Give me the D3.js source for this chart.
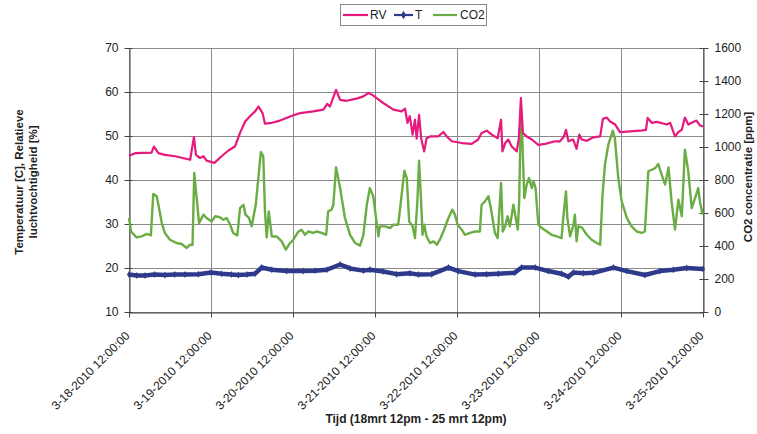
<!DOCTYPE html>
<html><head><meta charset="utf-8">
<script src="https://cdn.jsdelivr.net/npm/d3@7"></script>
<style>
body{margin:0;background:#fff}
text{font-family:"Liberation Sans",Arial,sans-serif;fill:#222}
</style>
</head><body>
<svg id="chart" width="757" height="434"></svg>
<script>
// ---- data (hours after 3-18-2010 12:00) ----
const tickHours = [0, 24, 48, 72, 96, 120, 144, 168];
const tickLabels = ["3-18-2010 12:00:00","3-19-2010 12:00:00","3-20-2010 12:00:00","3-21-2010 12:00:00",
  "3-22-2010 12:00:00","3-23-2010 12:00:00","3-24-2010 12:00:00","3-25-2010 12:00:00"];
const leftTicks = [10, 20, 30, 40, 50, 60, 70];
const rightTicks = [0, 200, 400, 600, 800, 1000, 1200, 1400, 1600];
const seriesNames = ["RV", "T", "CO2"];

const rvHours = [0,1.8,6.6,7.3,8.6,10.5,13.5,17.9,19.0,19.6,20.8,21.8,22.7,25.0,27.1,29.1,31.0,32.5,34.0,35.4,36.9,37.9,39.1,39.8,41.8,44.2,48.1,50.1,53.9,56.9,58.0,58.8,60.6,61.8,63.7,66.6,68.6,70.1,71.5,74.4,77.4,79.8,80.8,81.5,82.2,83.0,83.7,84.2,84.9,85.5,86.4,87.1,88.1,90.5,92.0,93.0,94.5,97.4,100.3,102.2,103.2,104.7,106.2,107.9,108.9,109.3,110.1,111.0,112.0,113.5,114.1,114.7,115.3,116.4,117.9,119.8,121.8,124.7,126.1,127.3,127.9,128.6,130.0,131.0,131.8,132.5,134.0,135.9,137.9,138.7,139.8,140.8,142.3,143.7,145.7,149.6,151.3,151.8,153.0,154.5,157.4,158.4,159.8,160.8,161.8,162.7,163.7,164.7,166.1,167.1,168.0];
const rvValues = [45.5,46.1,46.2,47.6,46.1,45.7,45.4,44.6,49.8,45.7,45.0,45.4,44.4,43.9,45.4,46.7,47.6,50.7,53.3,54.5,55.6,56.7,55.2,52.8,53.0,53.5,54.7,55.2,55.6,56.0,57.3,56.7,60.5,58.2,58.0,58.5,59.0,59.8,59.2,57.5,56.0,55.6,56.2,53.0,54.5,50.3,53.7,49.4,54.8,49.5,46.5,49.5,49.9,49.9,50.9,49.9,48.8,48.4,48.2,49.2,50.7,51.2,50.3,49.5,53.7,46.5,48.4,49.2,47.6,46.5,49.5,58.6,50.7,49.9,49.2,48.0,48.2,48.8,48.8,49.9,51.4,48.8,49.2,47.1,50.3,49.2,48.9,49.7,49.9,53.9,54.2,53.3,52.6,50.9,51.0,51.2,51.4,54.1,53.0,53.2,52.6,53.0,49.9,50.9,51.4,54.2,52.6,53.0,53.5,52.4,52.2];

const tHours = [0,2.3,4.7,7.5,10.5,13.4,16.4,20.3,24.0,27.1,30.0,32.0,34.5,36.9,38.8,41.8,46.1,51.0,54.5,57.9,61.8,64.7,68.6,70.5,74.4,78.3,82.2,84.7,88.6,93.5,96.4,101.3,104.7,108.1,112.9,114.9,118.9,122.7,126.6,128.6,130.1,133.0,135.9,141.8,145.7,151.0,155.4,159.3,163.2,168.0];
const tValues = [18.5,18.3,18.3,18.5,18.4,18.5,18.5,18.6,19.0,18.7,18.5,18.4,18.5,18.7,20.1,19.6,19.3,19.3,19.4,19.6,20.8,19.9,19.4,19.6,19.2,18.6,18.8,18.5,18.6,20.1,19.3,18.5,18.6,18.7,18.9,20.1,20.1,19.3,18.7,18.0,19.0,18.8,18.9,20.1,19.3,18.4,19.3,19.6,20.0,19.8];

const co2Hours = [0,0.6,2.2,3.7,5.2,6.4,7.1,8.1,8.6,9.6,10.5,12.0,13.9,15.4,16.9,17.9,18.6,19.1,19.8,20.5,21.8,22.7,24.2,25.2,26.6,27.6,28.6,29.6,30.5,31.7,32.5,33.5,34.1,35.1,35.9,37.1,37.9,38.6,39.3,39.8,40.3,40.9,41.8,43.2,44.7,45.9,46.9,48.1,49.6,50.5,51.5,52.5,53.9,54.9,56.4,57.7,58.3,59.3,59.8,60.6,61.8,63.2,64.7,66.2,67.6,68.6,69.6,70.5,71.5,72.3,73.0,73.4,74.9,76.4,77.4,78.8,79.8,80.6,81.3,82.0,83.0,83.7,84.4,84.9,85.5,85.9,86.4,87.1,88.1,89.1,90.1,91.0,92.0,93.5,94.6,95.4,96.2,97.4,98.3,99.8,101.3,102.7,103.2,104.2,105.2,105.9,107.1,107.9,108.9,109.4,110.1,110.8,111.5,112.5,113.2,113.8,114.2,114.7,115.1,115.7,116.4,117.1,117.9,118.4,119.0,119.8,120.8,122.3,123.7,125.2,126.6,127.1,127.9,128.3,129.1,130.1,130.5,131.0,131.5,132.5,134.0,135.4,136.9,137.9,138.6,139.3,140.3,141.6,142.2,143.2,144.2,145.7,147.1,148.6,150.1,151.0,152.0,153.0,154.0,154.9,155.9,156.9,157.9,158.8,159.8,160.8,161.8,162.7,163.7,164.7,165.7,166.6,167.1,167.9];
const co2Values = [570,488,452,458,473,464,715,701,650,539,479,438,418,412,388,408,408,842,691,539,590,570,549,580,574,559,570,529,479,464,630,650,590,570,519,650,822,970,943,610,452,610,458,458,428,378,412,438,488,499,468,488,479,488,479,468,610,620,650,876,751,570,468,418,402,468,650,751,701,570,458,519,519,509,529,529,711,856,812,549,519,448,670,917,670,468,529,458,418,428,408,438,488,570,620,590,529,499,468,479,488,488,650,670,701,630,479,448,782,488,519,580,519,650,570,499,670,1226,1054,691,772,812,751,792,751,529,509,488,468,458,448,570,731,570,458,529,590,428,519,513,468,438,418,408,711,893,1014,1099,1054,812,670,570,519,488,479,488,852,862,872,897,832,772,876,670,499,681,580,984,852,630,691,751,670,590];

const colors = {RV: "#e6197c", T: "#2d3a8c", CO2: "#6aad44"};

// ---- chart ----
const svg = d3.select("#chart");
const L = 129, R = 703, T = 48, B = 312;
const x = d3.scaleLinear().domain([0, 168]).range([L, R]);
const yL = d3.scaleLinear().domain([10, 70]).range([B, T]);
const yR = d3.scaleLinear().domain([0, 1600]).range([B, T]);

const grid = svg.append("g").attr("stroke", "#8a8a8a").attr("stroke-width", 1);
leftTicks.forEach(v => grid.append("line").attr("x1", L).attr("x2", R)
  .attr("y1", Math.round(yL(v)) + 0.5).attr("y2", Math.round(yL(v)) + 0.5));
tickHours.forEach(h => grid.append("line").attr("y1", T).attr("y2", B)
  .attr("x1", Math.round(x(h)) + 0.5).attr("x2", Math.round(x(h)) + 0.5));

// axes
const axL = svg.append("g").attr("transform", `translate(${L + 0.5},0)`)
  .call(d3.axisLeft(yL).tickValues(leftTicks).tickSizeInner(5).tickSizeOuter(0).tickPadding(6));
axL.selectAll(".tick line").attr("x1", 3);
const axR = svg.append("g").attr("transform", `translate(${R + 0.5},0)`)
  .call(d3.axisRight(yR).tickValues(rightTicks).tickFormat(d3.format("d"))
    .tickSizeInner(5).tickSizeOuter(0).tickPadding(6));
axR.selectAll(".tick line").attr("x1", -4);
const axB = svg.append("g").attr("transform", `translate(0,${B + 0.5})`)
  .call(d3.axisBottom(x).tickValues(tickHours).tickSizeInner(5).tickSizeOuter(0)
    .tickFormat((d, i) => tickLabels[i]));
[axL, axR, axB].forEach(a => {
  a.select(".domain").attr("stroke", "#444");
  a.selectAll(".tick line").attr("stroke", "#444");
  a.selectAll("text").style("font-size", "12px").attr("fill", "#222");
});
axB.selectAll(".tick text")
  .attr("text-anchor", "end").attr("y", 0).attr("dy", "0.35em")
  .attr("transform", "translate(-2,21) rotate(-45)");

// lines
const lineL = (hs) => d3.line().x((d, i) => x(hs[i])).y(d => yL(d));
const lineR = (hs) => d3.line().x((d, i) => x(hs[i])).y(d => yR(d));
svg.append("path").datum(co2Values).attr("d", lineR(co2Hours))
  .attr("fill", "none").attr("stroke", colors.CO2).attr("stroke-width", 2.4).attr("stroke-linejoin", "round");
svg.append("path").datum(rvValues).attr("d", lineL(rvHours))
  .attr("fill", "none").attr("stroke", colors.RV).attr("stroke-width", 2.2).attr("stroke-linejoin", "round");
svg.append("path").datum(tValues).attr("d", lineL(tHours))
  .attr("fill", "none").attr("stroke", colors.T).attr("stroke-width", 4.5).attr("stroke-linejoin", "round");
svg.append("g").selectAll("path").data(tValues).join("path")
  .attr("d", d3.symbol(d3.symbolDiamond, 14))
  .attr("transform", (d, i) => `translate(${x(tHours[i])},${yL(d)})`)
  .attr("fill", colors.T);

// titles
svg.append("text").attr("x", (L + R) / 2).attr("y", 423).attr("text-anchor", "middle")
  .style("font-size", "12px").style("font-weight", "bold").text("Tijd (18mrt 12pm - 25 mrt 12pm)");
const lt = svg.append("text").attr("transform", "translate(23,182) rotate(-90)").attr("text-anchor", "middle")
  .style("font-size", "11.5px").style("font-weight", "bold");
lt.append("tspan").attr("x", 0).attr("dy", 0).text("Temperatuur [C], Relatieve");
lt.append("tspan").attr("x", 0).attr("dy", "1.25em").text("luchtvochtigheid [%]");
svg.append("text").attr("transform", "translate(752,177) rotate(-90)").attr("text-anchor", "middle")
  .style("font-size", "11.5px").style("font-weight", "bold").text("CO2 concentratie [ppm]");

// legend
const lg = svg.append("g");
lg.append("rect").attr("x", 340.5).attr("y", 4.5).attr("width", 146).attr("height", 21)
  .attr("fill", "#fff").attr("stroke", "#888");
const legItems = [
  {name: seriesNames[0], x1: 343, x2: 368, tx: 370},
  {name: seriesNames[1], x1: 394, x2: 413, tx: 415},
  {name: seriesNames[2], x1: 433, x2: 457, tx: 460}
];
legItems.forEach(it => {
  lg.append("line").attr("x1", it.x1).attr("x2", it.x2).attr("y1", 15).attr("y2", 15)
    .attr("stroke", colors[it.name]).attr("stroke-width", 2.2);
  if (it.name === "T") lg.append("path").attr("d", d3.symbol(d3.symbolDiamond, 22))
    .attr("transform", `translate(${(it.x1 + it.x2) / 2},15)`).attr("fill", colors.T);
  lg.append("text").attr("x", it.tx).attr("y", 19).style("font-size", "12px").text(it.name);
});
</script>
</body></html>
